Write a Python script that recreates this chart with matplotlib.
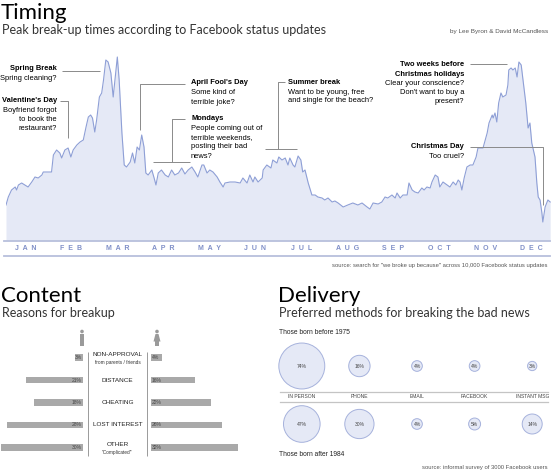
import matplotlib
matplotlib.use('Agg')
import matplotlib.pyplot as plt
from matplotlib.transforms import blended_transform_factory
from matplotlib.patches import Circle, Rectangle, Polygon

# --- Timing: break-up level along the year (x in months, 0 = 1 Jan) ---
month_pos = [0.00, 0.05, 0.12, 0.20, 0.23, 0.27, 0.34, 0.41, 0.48, 0.56, 0.63, 0.70, 0.78, 0.81, 0.99,
             1.03, 1.10, 1.17, 1.21, 1.28, 1.35, 1.41, 1.46, 1.54, 1.61, 1.68, 1.74, 1.79, 1.84, 1.88,
             1.93, 1.97, 2.03, 2.08, 2.12, 2.17, 2.22, 2.28, 2.33, 2.39, 2.42, 2.46, 2.52, 2.57, 2.62,
             2.70, 2.75, 2.80, 2.85, 2.90, 2.95, 3.00, 3.04, 3.09, 3.17, 3.22, 3.26, 3.31, 3.38, 3.46,
             3.53, 3.60, 3.67, 3.75, 3.82, 3.89, 3.96, 4.04, 4.11, 4.17, 4.26, 4.30, 4.37, 4.43, 4.50,
             4.59, 4.65, 4.72, 4.76, 4.87, 4.98, 5.09, 5.15, 5.24, 5.30, 5.37, 5.41, 5.48, 5.57, 5.59,
             5.67, 5.76, 5.80, 5.89, 5.93, 6.00, 6.07, 6.13, 6.17, 6.24, 6.28, 6.35, 6.41, 6.45, 6.50,
             6.57, 6.65, 6.72, 6.78, 6.87, 6.93, 7.00, 7.09, 7.15, 7.22, 7.33, 7.43, 7.54, 7.65, 7.74,
             7.85, 7.91, 7.98, 8.09, 8.17, 8.24, 8.30, 8.39, 8.46, 8.50, 8.57, 8.63, 8.72, 8.76, 8.83,
             8.89, 8.96, 9.04, 9.09, 9.15, 9.22, 9.26, 9.33, 9.39, 9.43, 9.50, 9.59, 9.65, 9.72, 9.78,
             9.83, 9.87, 9.91, 9.96, 10.02, 10.09, 10.15, 10.22, 10.26, 10.37, 10.46, 10.50, 10.57, 10.59,
             10.63, 10.67, 10.71, 10.76, 10.80, 10.87, 10.91, 10.93, 10.98, 11.02, 11.07, 11.11, 11.15,
             11.20, 11.24, 11.30, 11.35, 11.39, 11.43, 11.50, 11.54, 11.57, 11.61, 11.65, 11.67, 11.72,
             11.78, 11.83]
level = [35, 43, 50, 53, 50, 55, 57, 55, 53, 58, 63, 62, 65, 68, 68,
         85, 90, 87, 82, 90, 92, 83, 90, 95, 98, 100, 113, 123, 125, 122,
         108, 120, 143, 147, 160, 180, 178, 167, 143, 170, 183, 160, 107, 75, 73,
         78, 87, 77, 93, 90, 105, 93, 67, 65, 70, 62, 55, 67, 70, 65,
         63, 70, 65, 67, 72, 66, 70, 73, 68, 63, 75, 75, 67, 70, 68,
         63, 58, 53, 57, 58, 58, 57, 62, 57, 65, 58, 63, 58, 62, 70,
         75, 72, 80, 77, 83, 80, 82, 75, 82, 75, 73, 84, 80, 68, 70,
         57, 45, 45, 43, 42, 40, 42, 38, 39, 37, 33, 35, 37, 35, 37,
         33, 31, 37, 36, 38, 43, 42, 45, 42, 47, 42, 45, 45, 57, 50,
         48, 47, 52, 50, 53, 52, 58, 65, 63, 53, 58, 55, 53, 58, 55,
         60, 58, 50, 62, 73, 75, 75, 83, 92, 92, 107, 117, 125, 122,
         127, 118, 137, 147, 143, 145, 155, 170, 172, 170, 172, 163, 178,
         175, 160, 137, 112, 117, 97, 83, 57, 43, 40, 27, 18, 33,
         40, 38]
months = ['JAN', 'FEB', 'MAR', 'APR', 'MAY', 'JUN', 'JUL', 'AUG', 'SEP', 'OCT', 'NOV', 'DEC']

# --- Content: reasons for breakup, % ---
reasons = ['NON-APPROVAL', 'DISTANCE', 'CHEATING', 'LOST INTEREST', 'OTHER']
reason_notes = ['from parents / friends', '', '', '', '"Complicated"']
men = [3, 21, 18, 28, 30]
women = [4, 16, 22, 26, 32]

# --- Delivery: preferred methods, % ---
methods = ['IN PERSON', 'PHONE', 'EMAIL', 'FACEBOOK', 'INSTANT MSG']
before_1975 = [74, 16, 4, 4, 3]
after_1984 = [47, 30, 4, 5, 14]

W, H = 555, 472
fig = plt.figure(figsize=(W / 100, H / 100), dpi=100)
fig.patch.set_facecolor('white')

def px_axes(x0, y0, x1, y1):
    # axes from pixel box (top-left origin)
    return fig.add_axes([x0 / W, 1 - y1 / H, (x1 - x0) / W, (y1 - y0) / H])

TITLE = 'Lato'
BODY = 'Liberation Sans'
line_c = '#8e9fd6'
fill_c = '#e5e9f6'

# timeline
ax = px_axes(6, 50, 552, 240)
ax.fill_between(month_pos, level, 0, color=fill_c, lw=0)
ax.plot(month_pos, level, color=line_c, lw=0.8)
for m in range(1, 12):
    ax.axvline(m, color='white', lw=0.8, alpha=0.8, zorder=0.5)
ax.set_xlim(0, 546 / 46)
ax.set_ylim(0, 190)
ax.axis('off')

# overlay in pixel coords for texts and leader lines
ov = fig.add_axes([0, 0, 1, 1])
ov.set_xlim(0, W)
ov.set_ylim(H, 0)
ov.axis('off')

def txt(x, y, s, size=5.4, **kw):
    kw.setdefault('family', BODY)
    kw.setdefault('va', 'center')
    ov.text(x, y, s, fontsize=size, **kw)

def lead(xs, ys, c='#8a8a8a'):
    ov.plot(xs, ys, color=c, lw=0.7, solid_capstyle='butt')

# titles
txt(1, 13, 'Timing', 16, family=TITLE)
txt(2, 30, 'Peak break-up times according to Facebook status updates', 9.0, family=TITLE, color='#333333')
txt(548, 31, 'by Lee Byron & David McCandless', 4.6, ha='right', color='#555555')

# month axis
tr_m = blended_transform_factory(ax.transData, ov.transData)
ov.plot([4, 550], [240.5, 240.5], color='#b7bfdc', lw=1.3)
ov.plot([4, 550], [256, 256], color='#b7bfdc', lw=1.3)
for i, mname in enumerate(months):
    ov.text(i + 0.42, 249, '  '.join(mname), transform=tr_m, fontsize=5.0, family=BODY,
            weight='bold', color='#8090c8', ha='center', va='center')
txt(548, 266, 'source: search for "we broke up because" across 10,000 Facebook status updates',
    4.2, ha='right', color='#555555')

# annotations
txt(57, 69, 'Spring Break', weight='bold', ha='right')
txt(57, 79, 'Spring cleaning?', ha='right')
lead([62, 100], [71, 71])

txt(57, 100, "Valentine's Day", weight='bold', ha='right')
for k, s in enumerate(['Boyfriend forgot', 'to book the', 'restaurant?']):
    txt(57, 110 + 9.2 * k, s, ha='right')
lead([60, 68, 68], [101, 101, 138])

txt(191, 83, "April Fool's Day", weight='bold')
txt(191, 93, 'Some kind of')
txt(191, 102, 'terrible joke?')
lead([185, 140, 140], [84, 84, 130])

txt(191, 119, 'Mondays', weight='bold')
for k, s in enumerate(['People coming out of', 'terrible weekends,', 'posting their bad', 'news?']):
    txt(191, 128.5 + 9.2 * k, s)
lead([185, 172, 172], [119, 119, 162])
lead([153, 190], [162, 162])

txt(288, 82, 'Summer break', weight='bold')
txt(288, 92, 'Want to be young, free')
txt(288, 101, 'and single for the beach?')
lead([285, 278, 278], [82, 82, 149])
lead([265, 297], [149, 149])

txt(464, 65, 'Two weeks before', weight='bold', ha='right')
txt(464, 74, 'Christmas holidays', weight='bold', ha='right')
for k, s in enumerate(['Clear your conscience?', "Don't want to buy a", 'present?']):
    txt(464, 83.5 + 9.2 * k, s, ha='right')
lead([470, 507], [64, 64])

txt(464, 147, 'Christmas Day', weight='bold', ha='right')
txt(464, 157, 'Too cruel?', ha='right')
lead([470, 543, 543], [147, 147, 205])

# --- Content ---
txt(1, 296, 'Content', 16, family=TITLE)
txt(2, 313, 'Reasons for breakup', 9.0, family=TITLE, color='#333333')

bar_c = '#a9a9a9'
row_top, row_step = 357.5, 22.5
y0, y1 = row_top - row_step / 2, row_top + 4.5 * row_step
axm = px_axes(0, y0, 83, y1)
axm.barh(range(len(men)), men, height=0.3, color=bar_c)
axm.set_xlim(83 / 2.73, 0)
axm.set_ylim(4.5, -0.5)
axm.axis('off')
for i, v in enumerate(men):
    axm.text(0.4, i, f'{v}%', fontsize=3.6, family=BODY, color='#444444', ha='right', va='center')

axf = px_axes(151, y0, 250, y1)
axf.barh(range(len(women)), women, height=0.3, color=bar_c)
axf.set_xlim(0, 99 / 2.72)
axf.set_ylim(4.5, -0.5)
axf.axis('off')
for i, v in enumerate(women):
    axf.text(0.4, i, f'{v}%', fontsize=3.6, family=BODY, color='#444444', ha='left', va='center')

tr_r = blended_transform_factory(ov.transData, axm.transData)
for i, (r, note) in enumerate(zip(reasons, reason_notes)):
    dy = -0.12 if note else 0
    ov.text(117.5, i + dy, r, transform=tr_r, fontsize=4.6, family=BODY, color='#222222',
            ha='center', va='center')
    if note:
        ov.text(117.5, i + 0.22, note, transform=tr_r, fontsize=3.4, family=BODY, color='#333333',
                ha='center', va='center')
lead([88, 88], [352, 456], c='#9a9a9a')
lead([147, 147], [352, 456], c='#9a9a9a')

# gender icons
ic = '#9a9a9a'
ov.add_patch(Circle((82, 331.5), 1.8, color=ic, lw=0))
ov.add_patch(Rectangle((79.8, 334), 4.4, 6.5, color=ic, lw=0))
ov.add_patch(Rectangle((80.3, 340), 1.5, 5.5, color=ic, lw=0))
ov.add_patch(Rectangle((82.2, 340), 1.5, 5.5, color=ic, lw=0))
ov.add_patch(Circle((157, 331.5), 1.8, color=ic, lw=0))
ov.add_patch(Polygon([(155.5, 334), (158.5, 334), (160.5, 341.5), (153.5, 341.5)], color=ic, lw=0))
ov.add_patch(Rectangle((155.2, 341), 1.4, 4.5, color=ic, lw=0))
ov.add_patch(Rectangle((157.4, 341), 1.4, 4.5, color=ic, lw=0))

# --- Delivery ---
txt(278, 296, 'Delivery', 16, family=TITLE)
txt(279, 313, 'Preferred methods for breaking the bad news', 9.0, family=TITLE, color='#333333')
txt(279, 333, 'Those born before 1975', 4.8, color='#222222')
txt(279, 455, 'Those born after 1984', 4.8, color='#222222')
txt(548, 467, 'source: informal survey of 3000 Facebook users', 4.2, ha='right', color='#555555')

# circle rows: row 0 centred at y=366 px, row 1 at y=424 px
axd = px_axes(273, 366, 561, 424)
axd.set_xlim(-0.5, 4.5)
axd.set_ylim(1, 0)
axd.axis('off')
k = (2 * 0.72 * 2.67) ** 2
cols = range(len(methods))
axd.scatter(cols, [0] * 5, s=[k * v for v in before_1975], color=fill_c, edgecolor='#a6b2dc',
            lw=0.7, clip_on=False)
axd.scatter(cols, [1] * 5, s=[k * v for v in after_1984], color=fill_c, edgecolor='#a6b2dc',
            lw=0.7, clip_on=False)
for i in cols:
    axd.text(i, 0, f'{before_1975[i]}%', fontsize=3.6, family=BODY, color='#444444', ha='center', va='center')
    axd.text(i, 1, f'{after_1984[i]}%', fontsize=3.6, family=BODY, color='#444444', ha='center', va='center')
tr_d = blended_transform_factory(axd.transData, ov.transData)
for i, mth in enumerate(methods):
    ov.text(i, 397, mth, transform=tr_d, fontsize=3.6, family=BODY, color='#444444', ha='center', va='center')
ov.plot([280, 548], [392, 392], color='#c4c4c4', lw=0.9)
ov.plot([280, 548], [402, 402], color='#c4c4c4', lw=0.9)

fig.savefig('out.png', dpi=100, facecolor='white')
